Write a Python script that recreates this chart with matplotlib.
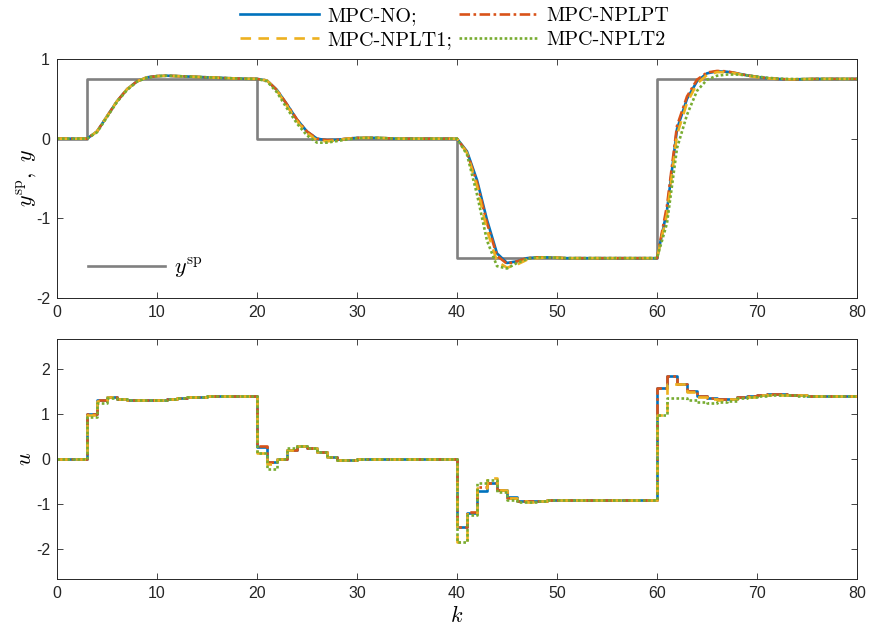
import numpy as np
import matplotlib
matplotlib.use('Agg')
import matplotlib.pyplot as plt
from matplotlib.font_manager import FontProperties
from matplotlib.lines import Line2D

plt.rcParams['font.family'] = ['Liberation Sans', 'DejaVu Sans']
plt.rcParams['mathtext.fontset'] = 'cm'
plt.rcParams['axes.unicode_minus'] = False

k = np.arange(0, 81)

sp_start_k = [0, 3, 20, 40, 60]
sp_levels = [0.0, 0.75, 0.0, -1.5, 0.75]

y_no = [0, 0, 0, 0,
        0.09, 0.28, 0.47, 0.62, 0.72, 0.77, 0.785, 0.79, 0.785, 0.78, 0.775, 0.77, 0.765, 0.76, 0.755, 0.752, 0.75,
        0.73, 0.61, 0.43, 0.24, 0.09, 0.0, -0.02, -0.015, 0.0, 0.01, 0.01, 0.01, 0.005, 0.0, 0, 0, 0, 0, 0, 0,
        -0.16, -0.52, -1.02, -1.44, -1.56, -1.54, -1.5, -1.49, -1.49, -1.495, -1.5, -1.5, -1.5, -1.5, -1.5, -1.5, -1.5, -1.5, -1.5, -1.5,
        -0.9, 0.12, 0.5, 0.72, 0.82, 0.845, 0.84, 0.82, 0.795, 0.775, 0.76, 0.75, 0.745, 0.745, 0.748, 0.75, 0.75, 0.75, 0.75, 0.75]
y_pt = [0, 0, 0, 0,
        0.09, 0.28, 0.47, 0.62, 0.72, 0.77, 0.785, 0.79, 0.785, 0.78, 0.775, 0.77, 0.765, 0.76, 0.755, 0.752, 0.75,
        0.73, 0.61, 0.43, 0.24, 0.09, 0.0, -0.02, -0.015, 0.0, 0.01, 0.01, 0.01, 0.005, 0.0, 0, 0, 0, 0, 0, 0,
        -0.17, -0.55, -1.06, -1.47, -1.57, -1.54, -1.5, -1.49, -1.49, -1.495, -1.5, -1.5, -1.5, -1.5, -1.5, -1.5, -1.5, -1.5, -1.5, -1.5,
        -0.84, 0.16, 0.53, 0.74, 0.83, 0.85, 0.845, 0.82, 0.795, 0.775, 0.76, 0.75, 0.745, 0.745, 0.748, 0.75, 0.75, 0.75, 0.75, 0.75]
y_t1 = [0, 0, 0, 0,
        0.09, 0.28, 0.47, 0.62, 0.72, 0.77, 0.785, 0.79, 0.785, 0.78, 0.775, 0.77, 0.765, 0.76, 0.755, 0.752, 0.75,
        0.73, 0.60, 0.41, 0.22, 0.07, -0.02, -0.035, -0.02, 0.0, 0.01, 0.01, 0.01, 0.005, 0, 0, 0, 0, 0, 0, 0,
        -0.18, -0.6, -1.15, -1.54, -1.62, -1.58, -1.52, -1.5, -1.49, -1.495, -1.5, -1.5, -1.5, -1.5, -1.5, -1.5, -1.5, -1.5, -1.5, -1.5,
        -0.95, 0.05, 0.45, 0.69, 0.8, 0.835, 0.835, 0.815, 0.79, 0.772, 0.758, 0.75, 0.745, 0.746, 0.748, 0.75, 0.75, 0.75, 0.75, 0.75]
y_t2 = [0, 0, 0, 0,
        0.08, 0.27, 0.46, 0.61, 0.715, 0.765, 0.785, 0.79, 0.785, 0.78, 0.775, 0.77, 0.765, 0.76, 0.755, 0.752, 0.75,
        0.72, 0.58, 0.38, 0.19, 0.04, -0.05, -0.05, -0.03, -0.01, 0.005, 0.01, 0.01, 0.005, 0, 0, 0, 0, 0, 0, 0,
        -0.2, -0.7, -1.28, -1.6, -1.63, -1.56, -1.51, -1.49, -1.49, -1.495, -1.5, -1.5, -1.5, -1.5, -1.5, -1.5, -1.5, -1.5, -1.5, -1.5,
        -1.06, -0.12, 0.3, 0.6, 0.74, 0.79, 0.805, 0.805, 0.795, 0.78, 0.765, 0.755, 0.75, 0.748, 0.748, 0.75, 0.75, 0.75, 0.75, 0.75]

u_no = [0, 0, 0,
        1.0, 1.31, 1.37, 1.34, 1.32, 1.31, 1.31, 1.32, 1.34, 1.355, 1.37, 1.385, 1.395, 1.40, 1.40, 1.40, 1.40,
        0.26, -0.07, -0.01, 0.2, 0.3, 0.24, 0.15, 0.05, -0.02, -0.02, -0.01, 0.0, 0.01, 0.01, 0.005, 0, 0, 0, 0, 0,
        -1.52, -1.21, -0.71, -0.54, -0.69, -0.85, -0.93, -0.94, -0.93, -0.92, -0.92, -0.92, -0.92, -0.92, -0.92, -0.92, -0.92, -0.92, -0.92, -0.92,
        1.585, 1.84, 1.67, 1.52, 1.41, 1.36, 1.33, 1.34, 1.37, 1.40, 1.43, 1.44, 1.44, 1.43, 1.42, 1.41, 1.40, 1.40, 1.40, 1.40, 1.40]
u_pt = [0, 0, 0,
        1.0, 1.32, 1.37, 1.34, 1.32, 1.31, 1.31, 1.32, 1.34, 1.355, 1.37, 1.385, 1.395, 1.40, 1.40, 1.40, 1.40,
        0.28, -0.07, -0.01, 0.2, 0.3, 0.24, 0.15, 0.05, -0.02, -0.02, -0.01, 0.0, 0.01, 0.01, 0.005, 0, 0, 0, 0, 0,
        -1.52, -1.19, -0.62, -0.53, -0.7, -0.86, -0.93, -0.94, -0.93, -0.92, -0.92, -0.92, -0.92, -0.92, -0.92, -0.92, -0.92, -0.92, -0.92, -0.92,
        1.585, 1.84, 1.67, 1.52, 1.41, 1.36, 1.33, 1.34, 1.37, 1.40, 1.43, 1.44, 1.44, 1.43, 1.42, 1.41, 1.40, 1.40, 1.40, 1.40, 1.40]
u_t1 = [0, 0, 0,
        0.98, 1.30, 1.37, 1.34, 1.32, 1.31, 1.31, 1.32, 1.34, 1.355, 1.37, 1.385, 1.395, 1.40, 1.40, 1.40, 1.40,
        0.13, -0.11, -0.01, 0.2, 0.3, 0.25, 0.16, 0.05, -0.02, -0.02, -0.01, 0, 0.01, 0.01, 0.005, 0, 0, 0, 0, 0,
        -1.84, -1.22, -0.64, -0.43, -0.69, -0.87, -0.94, -0.95, -0.93, -0.92, -0.92, -0.92, -0.92, -0.92, -0.92, -0.92, -0.92, -0.92, -0.92, -0.92,
        0.98, 1.66, 1.66, 1.5, 1.39, 1.33, 1.31, 1.33, 1.36, 1.39, 1.42, 1.43, 1.43, 1.43, 1.42, 1.41, 1.40, 1.40, 1.40, 1.40, 1.40]
u_t2 = [0, 0, 0,
        0.93, 1.25, 1.35, 1.34, 1.32, 1.31, 1.31, 1.32, 1.34, 1.355, 1.37, 1.385, 1.395, 1.40, 1.40, 1.40, 1.40,
        0.13, -0.23, -0.01, 0.24, 0.3, 0.25, 0.16, 0.05, -0.02, -0.02, -0.01, 0, 0.01, 0.01, 0.005, 0, 0, 0, 0, 0,
        -1.84, -1.24, -0.54, -0.47, -0.73, -0.91, -0.96, -0.95, -0.93, -0.92, -0.92, -0.92, -0.92, -0.92, -0.92, -0.92, -0.92, -0.92, -0.92, -0.92,
        0.98, 1.35, 1.35, 1.31, 1.27, 1.25, 1.26, 1.30, 1.35, 1.39, 1.41, 1.42, 1.42, 1.42, 1.41, 1.41, 1.40, 1.40, 1.40, 1.40, 1.40]

labels = ['MPC-NO;', 'MPC-NPLPT', 'MPC-NPLT1;', 'MPC-NPLT2']
colors = ['#0072BD', '#D95319', '#EDB120', '#77AC30']
lw = 1.9
styles = ['-', (0, (4, 1.3, 1.0, 1.3)), (0, (4, 2.8)), (0, (1.0, 0.9))]

# setpoint stairs
sp = np.zeros(len(k))
for s, lv in zip(sp_start_k, sp_levels):
    sp[k >= s] = lv

fig = plt.figure(figsize=(8.7, 6.31), dpi=100)
ax1 = fig.add_axes([57/870, 1-298/631, 800/870, 239/631])
ax2 = fig.add_axes([57/870, 1-579/631, 800/870, 240/631])

sp_line, = ax1.plot(k, sp, drawstyle='steps-post', color=(0.5, 0.5, 0.5), lw=1.9)
handles = []
for ys, c, st, lb in zip([y_no, y_pt, y_t1, y_t2], colors, styles, labels):
    h, = ax1.plot(k, ys, color=c, ls=st, lw=lw, label=lb)
    handles.append(h)
for us, c, st in zip([u_no, u_pt, u_t1, u_t2], colors, styles):
    ax2.plot(k, us, color=c, ls=st, lw=lw, drawstyle='steps-post')

for ax in (ax1, ax2):
    ax.set_xlim(0, 80)
    ax.set_xticks(np.arange(0, 81, 10))
    ax.tick_params(direction='in', top=True, right=True, length=4, width=0.6,
                   labelsize=11.5, colors='0.15', pad=5)
    for sp_ in ax.spines.values():
        sp_.set_linewidth(0.7)
        sp_.set_color('0.15')

ax1.set_ylim(-2, 1)
ax1.set_yticks([-2, -1, 0, 1])
ax2.set_ylim(-2.67, 2.67)
ax2.set_yticks([-2, -1, 0, 1, 2])

ax1.set_ylabel(r'$y^{\rm sp},\ y$', fontsize=16, labelpad=-2)
ax2.set_ylabel(r'$u$', fontsize=16, labelpad=0)
ax2.set_xlabel(r'$k$', fontsize=16, labelpad=4)

cm = FontProperties(family='cmr10', size=14.5)
order = [handles[0], handles[2], handles[1], handles[3]]
fig.legend(order, [h.get_label() for h in order], ncol=2, loc='upper center',
           bbox_to_anchor=(0.5224, 1.005), frameon=False, prop=cm, handlelength=3.95,
           columnspacing=0.3, labelspacing=0.3, handletextpad=0.4, borderaxespad=0.1)
ax1.legend([sp_line], [r'$y^{\rm sp}$'], loc='lower left', frameon=False,
           prop=FontProperties(size=16), handlelength=3.5, handletextpad=0.4,
           borderaxespad=0.4, borderpad=0.4, bbox_to_anchor=(0.016, 0.0))

fig.savefig('out.png', dpi=100)
